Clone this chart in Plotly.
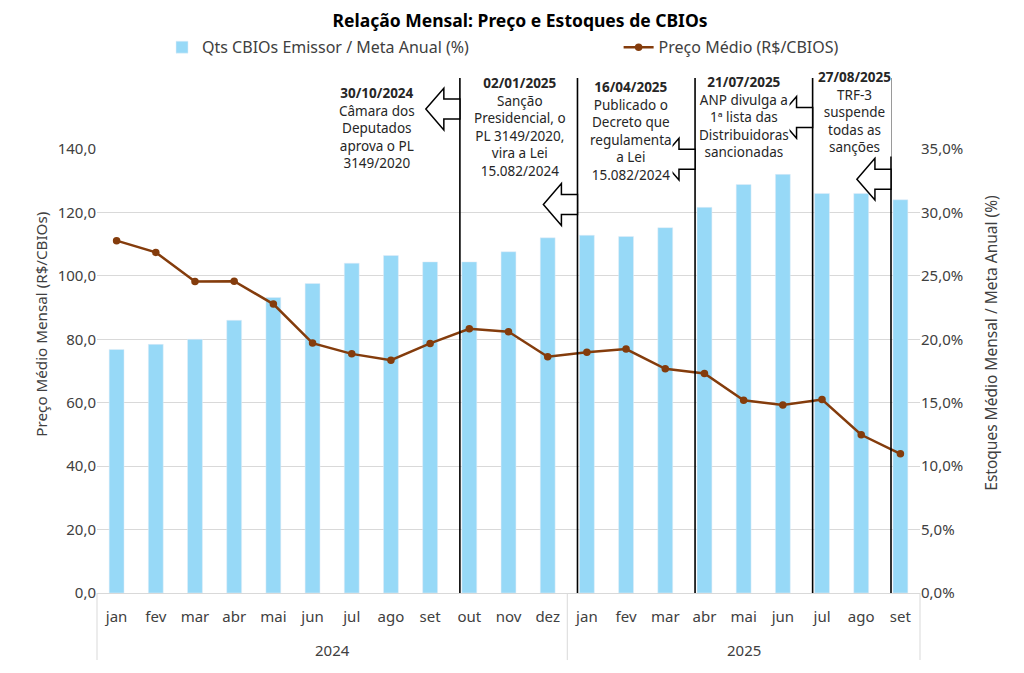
import plotly.graph_objects as go

# dados mensais
anos = ["2024"] * 12 + ["2025"] * 9
meses = ["jan", "fev", "mar", "abr", "mai", "jun", "jul", "ago", "set", "out", "nov", "dez",
         "jan", "fev", "mar", "abr", "mai", "jun", "jul", "ago", "set"]
estoque_pct = [19.2, 19.6, 20.0, 21.5, 23.3, 24.4, 26.0, 26.6, 26.1, 26.1, 26.9, 28.0,
               28.2, 28.1, 28.8, 30.4, 32.2, 33.0, 31.5, 31.5, 31.0]
preco_medio = [111.1, 107.4, 98.2, 98.3, 91.1, 78.8, 75.4, 73.4, 78.7, 83.3, 82.4, 74.5,
               75.9, 76.9, 70.7, 69.2, 60.8, 59.3, 61.0, 49.9, 43.9]

# eventos (indice do mes em que a linha vertical e marcada)
evento_idx = [9, 12, 15, 18, 20]
evento_data = ["30/10/2024", "02/01/2025", "16/04/2025", "21/07/2025", "27/08/2025"]
evento_texto = [
    "Câmara dos<br>Deputados<br>aprova o PL<br>3149/2020",
    "Sanção<br>Presidencial, o<br>PL 3149/2020,<br>vira a Lei<br>15.082/2024",
    "Publicado o<br>Decreto que<br>regulamenta<br>a Lei<br>15.082/2024",
    "ANP divulga a<br>1ª lista das<br>Distribuidoras<br>sancionadas",
    "TRF-3<br>suspende<br>todas as<br>sanções",
]
texto_x = [6.64, 10.29, 13.13, 16.01, 18.83]
texto_y = [1.149, 1.172, 1.163, 1.174, 1.185]
seta_y = [1.090, 0.875, 0.977, 1.071, 0.932]

AZUL = "#97D9F7"
MARROM = "#843C0C"
CINZA = "#404040"
GRADE = "#d9d9d9"
FONTE = "Noto Sans"

n = len(meses)
xs = list(range(n))

fig = go.Figure()
fig.add_trace(go.Bar(
    x=xs, y=[v / 100 for v in estoque_pct],
    name="Qts CBIOs Emissor / Meta Anual (%)",
    marker_color=AZUL, yaxis="y", legend="legend",
))
fig.add_trace(go.Scatter(
    x=xs, y=preco_medio,
    name="Preço Médio (R$/CBIOS)", mode="lines+markers",
    line=dict(color=MARROM, width=2.5),
    marker=dict(color=MARROM, size=7.5), yaxis="y2", legend="legend2",
))

shapes = []
annotations = []

# eixo de categorias em dois niveis: divisores e rotulos dos anos
grupos = []
for i, a in enumerate(anos):
    if not grupos or grupos[-1][0] != a:
        grupos.append([a, i, i])
    else:
        grupos[-1][2] = i
limites = [0.0] + [(g[2] + 1) / n for g in grupos]
for b in limites:
    shapes.append(dict(type="line", xref="paper", yref="paper", x0=b, x1=b,
                       y0=0, y1=-0.151, line=dict(color=GRADE, width=1)))
for a, i0, i1 in grupos:
    annotations.append(dict(xref="x", yref="paper", x=(i0 + i1) / 2, y=-0.128,
                            text=a, showarrow=False, yanchor="middle",
                            font=dict(family=FONTE, size=15, color=CINZA)))

desloc = 0.24
for i, idx in enumerate(evento_idx):
    x0 = idx - desloc
    shapes.append(dict(type="line", xref="x", yref="paper", x0=x0, x1=x0,
                       y0=0, y1=1.16, line=dict(color="black", width=1.6)))
    c = seta_y[i]
    hb, ln, hh, sh = 0.41, 0.87, 0.047, 0.0225
    path = (f"M{x0},{c + sh} L{x0 - hb},{c + sh} L{x0 - hb},{c + hh} L{x0 - ln},{c} "
            f"L{x0 - hb},{c - hh} L{x0 - hb},{c - sh} L{x0},{c - sh} Z")
    shapes.append(dict(type="path", xref="x", yref="paper", path=path,
                       fillcolor="white", line=dict(color="black", width=1.5)))
    annotations.append(dict(
        xref="x", yref="paper", x=texto_x[i], y=texto_y[i], yanchor="top",
        text=f"<b>{evento_data[i]}</b><br>{evento_texto[i]}", showarrow=False,
        bgcolor="white", borderpad=0, align="center",
        font=dict(family=FONTE, size=13.5, color="#262626"),
    ))

annotations.append(dict(xref="paper", yref="paper", x=-0.083, y=0.606,
                        text="Preço Médio Mensal (R$/CBIOs)", textangle=-90,
                        showarrow=False, font=dict(family=FONTE, size=15.2, color=CINZA)))
annotations.append(dict(xref="paper", yref="paper", x=1.101, y=0.564,
                        text="Estoques Médio Mensal / Meta Anual (%)", textangle=-90,
                        showarrow=False, font=dict(family=FONTE, size=15.5, color=CINZA)))

leg_font = dict(family=FONTE, size=16, color=CINZA)
fig.update_layout(
    width=1016, height=665,
    margin=dict(l=89, r=104, t=141, b=80, autoexpand=False),
    paper_bgcolor="white", plot_bgcolor="white",
    separators=",.",
    bargap=0.62,
    showlegend=True,
    font=dict(family=FONTE, size=15, color=CINZA),
    title=dict(text="<b>Relação Mensal: Preço e Estoques de CBIOs</b>",
               x=0.504, xanchor="center", y=0.9812, yanchor="middle",
               font=dict(family=FONTE, size=17.5, color="black")),
    legend=dict(orientation="h", xref="container", yref="container",
                x=0.1516, y=0.941, yanchor="middle", font=leg_font),
    legend2=dict(orientation="h", xref="container", yref="container",
                 x=0.601, y=0.941, yanchor="middle", font=leg_font),
    xaxis=dict(range=[-0.5, n - 0.5], tickvals=xs, ticktext=meses,
               showline=True, linecolor=GRADE, showgrid=False, zeroline=False,
               tickangle=0, automargin=False, ticks="", ticklabelstandoff=10,
               tickfont=dict(size=15, color=CINZA)),
    yaxis=dict(side="right", range=[0, 0.35], dtick=0.05, tickformat=".1%",
               showgrid=True, gridcolor=GRADE, zeroline=False, automargin=False,
               tickfont=dict(size=15, color=CINZA)),
    yaxis2=dict(side="left", overlaying="y", range=[0, 140], dtick=20,
                tickformat=".1f", showgrid=False, zeroline=False, automargin=False,
                tickfont=dict(size=15, color=CINZA)),
    shapes=shapes, annotations=annotations,
)

fig.write_html("out.html")
